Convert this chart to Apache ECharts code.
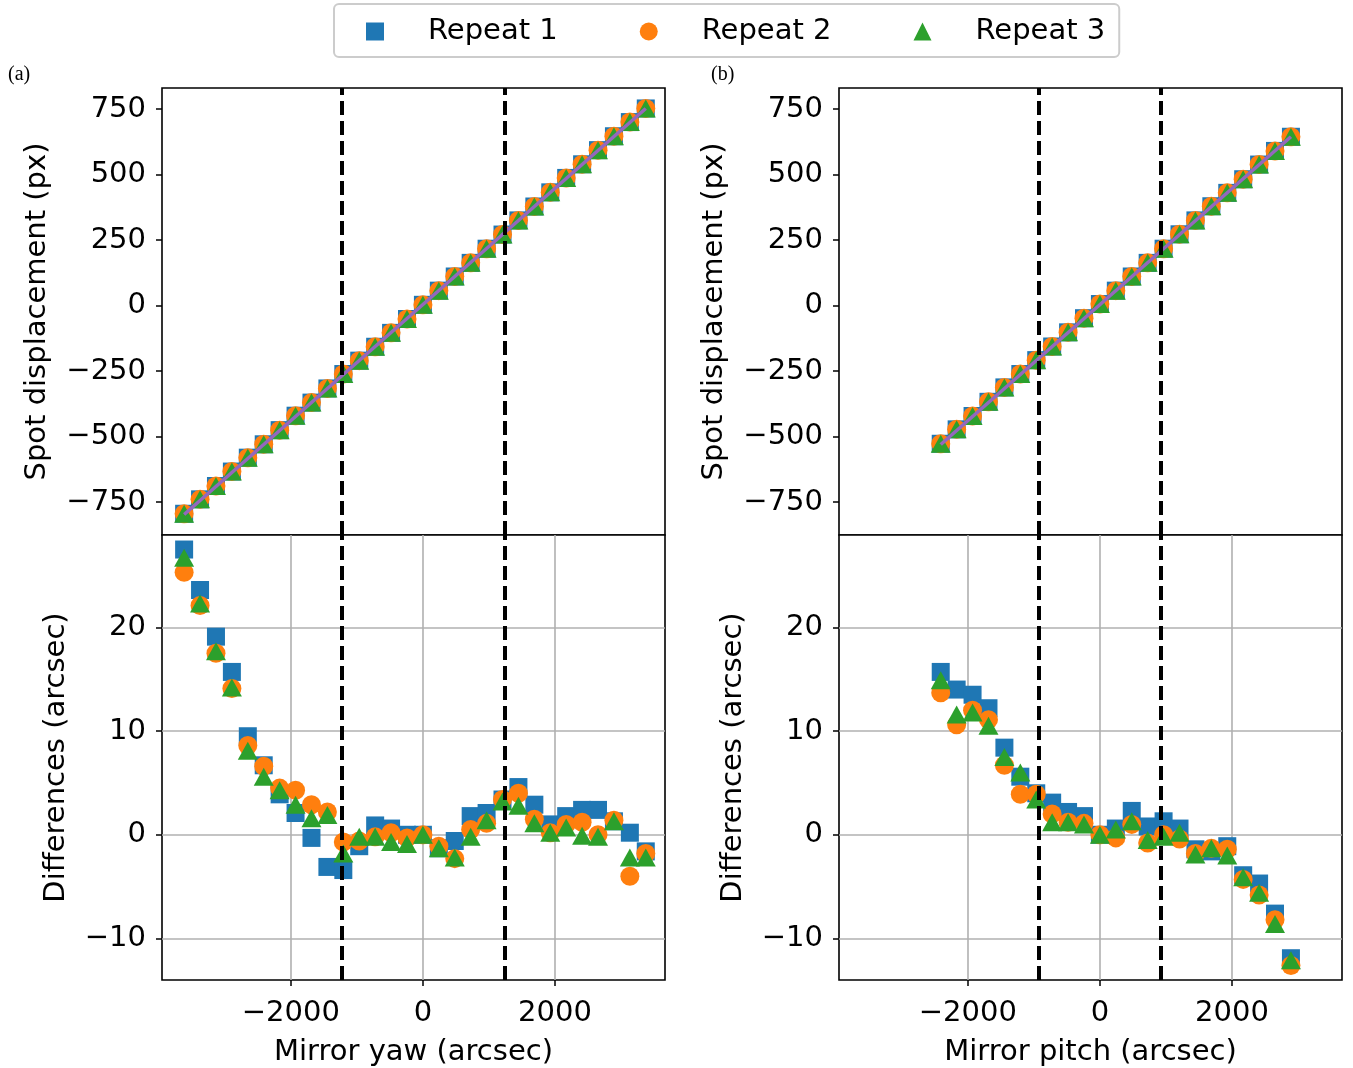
<!DOCTYPE html>
<html><head><meta charset="utf-8">
<script src="https://cdn.jsdelivr.net/npm/echarts@6/dist/echarts.min.js"></script>
<style>html,body{margin:0;padding:0;background:#fff}#c{width:1353px;height:1068px}</style>
</head><body><div id="c"></div>
<script>
// ---- data ----
const seriesNames = ['Repeat 1', 'Repeat 2', 'Repeat 3'];
const yawX = [-3615,-3374,-3133,-2892,-2651,-2410,-2169,-1928,-1687,-1446,-1205,-964,-723,-482,-241,0,241,482,723,964,1205,1446,1687,1928,2169,2410,2651,2892,3133,3374];
const pitchX = [-2410,-2169,-1928,-1687,-1446,-1205,-964,-723,-482,-241,0,241,482,723,964,1205,1446,1687,1928,2169,2410,2651,2892];
const yawDisp = [-794,-739,-688,-633,-580,-529,-475,-420,-370,-316,-261,-210,-157,-104,-51,3,57,111,163,217,271,325,378,432,487,539,593,646,700,752];
const pitchDisp = [-527,-472,-421,-367,-312,-261,-208,-156,-102,-48,6,57,111,163,217,272,325,379,430,482,538,590,644];
const yawDiff1 = [27.5,23.6,19.1,15.7,9.5,6.7,3.9,2.1,-0.3,-3.1,-3.4,-1.1,0.9,0.6,0.0,0.0,-1.3,-0.6,1.8,2.1,3.4,4.6,2.9,1.0,1.8,2.4,2.4,1.3,0.2,-1.6];
const yawDiff2 = [25.3,22.1,17.5,14.1,8.6,6.6,4.5,4.3,2.9,2.2,-0.7,-0.6,-0.2,0.2,-0.3,0.0,-1.1,-2.3,0.5,1.1,3.4,4.0,1.5,0.2,1.0,1.2,0.0,1.4,-4.0,-1.8];
const yawDiff3 = [26.7,22.3,17.7,14.2,8.1,5.6,4.3,2.9,1.6,1.9,-1.8,-0.2,-0.2,-0.7,-0.9,0.0,-1.3,-2.2,-0.2,1.4,3.2,2.8,1.1,0.2,0.7,-0.1,-0.2,1.3,-2.2,-2.2];
const pitchDiff1 = [15.7,14.0,13.5,12.2,8.4,5.6,4.0,3.1,2.2,1.8,0.0,0.6,2.3,0.8,1.3,0.6,-1.4,-1.6,-1.1,-3.9,-4.7,-7.6,-11.9];
const pitchDiff2 = [13.7,10.6,12.0,11.1,6.7,3.9,3.9,2.0,1.2,1.1,0.0,-0.3,1.0,-0.8,0.0,-0.4,-1.8,-1.3,-1.4,-4.3,-5.8,-8.2,-12.6];
const pitchDiff3 = [14.9,11.6,11.8,10.5,7.5,6.0,3.4,1.2,1.2,1.0,0.0,0.5,1.3,-0.5,-0.2,0.2,-1.9,-1.3,-2.0,-4.1,-5.6,-8.6,-12.1];
const yawFitX = [-3615, 3374];
const yawFitY = [-797, 752];
const pitchFitX = [-2410, 2892];
const pitchFitY = [-530, 644];
const yawLimits = [-1230, 1235];
const pitchLimits = [-925, 927];
const xTicks = [-2000, 0, 2000];
const dispTicks = [-750, -500, -250, 0, 250, 500, 750];
const diffTicks = [-10, 0, 10, 20];

// ---- styling ----
const FONT = 'DejaVu Sans';
const FS = 29;
const colors = ['#1f77b4', '#ff7f0e', '#2ca02c'];
const symbols = ['rect', 'circle', 'triangle'];
const sizes = [18, 19, [20, 18]];
const minus = v => String(v).replace('-', '\u2212');
const zip = (a, b) => a.map((v, i) => [v, b[i]]);

const grids = [
  {left: 162, top: 88, width: 503, height: 447},
  {left: 162, top: 535, width: 503, height: 445},
  {left: 839, top: 88, width: 503, height: 447},
  {left: 839, top: 535, width: 503, height: 445}
].map(g => Object.assign(g, {show: true, borderColor: '#000', borderWidth: 1.6, backgroundColor: '#fff', containLabel: false}));

function xAxisFor(idx, bottom, name) {
  return {
    type: 'value', gridIndex: idx, min: -3950, max: 3665, position: 'bottom',
    minInterval: 2000, maxInterval: 2000,
    axisLine: {show: false, onZero: false},
    axisTick: {show: bottom, customValues: xTicks, length: 6, lineStyle: {color: '#000', width: 1.5}},
    axisLabel: {show: bottom, customValues: xTicks, formatter: minus, color: '#000', fontFamily: FONT, fontSize: FS, margin: 19},
    splitLine: {show: bottom, lineStyle: {color: '#b0b0b0', width: 1.6}},
    name: bottom ? name : '', nameLocation: 'middle', nameGap: 58,
    nameTextStyle: {color: '#000', fontFamily: FONT, fontSize: FS}
  };
}
function yAxisFor(idx, top, name) {
  const ticks = top ? dispTicks : diffTicks;
  return {
    type: 'value', gridIndex: idx, position: 'left',
    min: top ? -875 : -14.0, max: top ? 830 : 28.9,
    minInterval: top ? 250 : 10, maxInterval: top ? 250 : 10,
    axisLine: {show: false, onZero: false},
    axisTick: {show: true, customValues: ticks, length: 6, lineStyle: {color: '#000', width: 1.5}},
    axisLabel: {customValues: ticks, formatter: minus, color: '#000', fontFamily: FONT, fontSize: FS, margin: 16},
    splitLine: {show: !top, lineStyle: {color: '#b0b0b0', width: 1.6}},
    name: name, nameLocation: 'middle', nameGap: top ? 110 : 91,
    nameTextStyle: {color: '#000', fontFamily: FONT, fontSize: FS}
  };
}

const xAxes = [
  xAxisFor(0, false, ''), xAxisFor(1, true, 'Mirror yaw (arcsec)'),
  xAxisFor(2, false, ''), xAxisFor(3, true, 'Mirror pitch (arcsec)')
];
const yAxes = [
  yAxisFor(0, true, 'Spot displacement (px)'), yAxisFor(1, false, 'Differences (arcsec)'),
  yAxisFor(2, true, 'Spot displacement (px)'), yAxisFor(3, false, 'Differences (arcsec)')
];

const series = [];
function scatterSet(idx, xs, ysList, limits) {
  ysList.forEach((ys, k) => {
    const s = {
      type: 'scatter', name: seriesNames[k], xAxisIndex: idx, yAxisIndex: idx,
      symbol: symbols[k], symbolSize: sizes[k],
      itemStyle: {color: colors[k], opacity: 1},
      data: zip(xs, ys), silent: true
    };
    if (k === 2) {
      s.markLine = {
        silent: true, symbol: ['none', 'none'], label: {show: false},
        lineStyle: {color: '#000', width: 4, type: [14, 6]},
        emphasis: {disabled: true},
        data: limits.map(v => ({xAxis: v}))
      };
    }
    series.push(s);
  });
}
function fitLine(idx, fx, fy) {
  series.push({
    type: 'line', name: 'fit', xAxisIndex: idx, yAxisIndex: idx,
    data: zip(fx, fy), symbol: 'none', silent: true,
    lineStyle: {color: '#9467bd', width: 3.5}, z: 3
  });
}
scatterSet(0, yawX, [yawDisp, yawDisp, yawDisp], yawLimits);
fitLine(0, yawFitX, yawFitY);
scatterSet(1, yawX, [yawDiff1, yawDiff2, yawDiff3], yawLimits);
scatterSet(2, pitchX, [pitchDisp, pitchDisp, pitchDisp], pitchLimits);
fitLine(2, pitchFitX, pitchFitY);
scatterSet(3, pitchX, [pitchDiff1, pitchDiff2, pitchDiff3], pitchLimits);

const chart = echarts.init(document.getElementById('c'), null, {renderer: 'canvas'});
chart.setOption({
  animation: false,
  backgroundColor: '#fff',
  title: [
    {text: '(a)', left: 3, top: 60, textStyle: {fontFamily: 'Liberation Serif', fontSize: 20, fontWeight: 'normal', color: '#000'}},
    {text: '(b)', left: 706, top: 60, textStyle: {fontFamily: 'Liberation Serif', fontSize: 20, fontWeight: 'normal', color: '#000'}}
  ],
  legend: {
    data: seriesNames, left: 334, top: 4,
    padding: [13, 14, 11, 32], itemGap: 82,
    itemWidth: 18, itemHeight: 18,
    borderColor: '#cccccc', borderWidth: 2, borderRadius: 5, backgroundColor: '#fff',
    textStyle: {fontFamily: FONT, fontSize: FS, color: '#000', padding: [0, 0, 0, 39]},
    selectedMode: false
  },
  grid: grids,
  xAxis: xAxes,
  yAxis: yAxes,
  series: series
});
</script>
</body></html>
